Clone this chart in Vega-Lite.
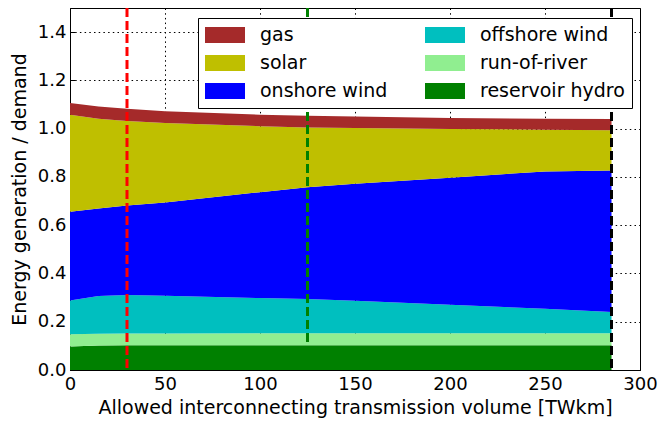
{
  "$schema": "https://vega.github.io/schema/vega-lite/v6.json",
  "width": 570,
  "height": 362,
  "autosize": {"type": "none"},
  "padding": {"left": 70, "top": 8, "right": 20, "bottom": 53},
  "background": "white",
  "config": {
    "font": "DejaVu Sans",
    "view": {"stroke": "black", "strokeWidth": 1},
    "axis": {
      "labelFont": "DejaVu Sans",
      "labelFontSize": 18,
      "labelColor": "black",
      "labelFlush": false,
      "titleFont": "DejaVu Sans",
      "titleFontSize": 19,
      "titleFontWeight": "normal",
      "titleColor": "black",
      "domainColor": "black",
      "domainWidth": 1,
      "tickColor": "black",
      "tickSize": -5,
      "tickWidth": 1,
      "gridColor": "black",
      "gridDash": [1.5, 3.2],
      "gridOpacity": 1,
      "gridWidth": 1,
      "zindex": 1
    },
    "legend": {
      "orient": "none",
      "legendX": 128,
      "legendY": 10,
      "columns": 2,
      "strokeColor": "black",
      "fillColor": "white",
      "padding": 7,
      "cornerRadius": 0,
      "symbolType": "M-2,-0.8H2V0.8H-2Z",
      "symbolSize": 400,
      "symbolOffset": 10,
      "symbolStrokeWidth": 0,
      "symbolOpacity": 1,
      "labelFont": "DejaVu Sans",
      "labelFontSize": 19,
      "labelColor": "black",
      "labelOffset": 25,
      "labelLimit": 150,
      "columnPadding": 37,
      "rowPadding": 8,
      "zindex": 2
    }
  },
  "datasets": {
    "gen": [
      {"x": 0, "tech": "reservoir hydro", "lo": 0, "hi": 0.097},
      {"x": 15, "tech": "reservoir hydro", "lo": 0, "hi": 0.102},
      {"x": 30, "tech": "reservoir hydro", "lo": 0, "hi": 0.103},
      {"x": 50, "tech": "reservoir hydro", "lo": 0, "hi": 0.103},
      {"x": 100, "tech": "reservoir hydro", "lo": 0, "hi": 0.103},
      {"x": 125, "tech": "reservoir hydro", "lo": 0, "hi": 0.103},
      {"x": 150, "tech": "reservoir hydro", "lo": 0, "hi": 0.103},
      {"x": 200, "tech": "reservoir hydro", "lo": 0, "hi": 0.103},
      {"x": 250, "tech": "reservoir hydro", "lo": 0, "hi": 0.103},
      {"x": 285, "tech": "reservoir hydro", "lo": 0, "hi": 0.103},
      {"x": 0, "tech": "run-of-river", "lo": 0.097, "hi": 0.148},
      {"x": 15, "tech": "run-of-river", "lo": 0.102, "hi": 0.150},
      {"x": 30, "tech": "run-of-river", "lo": 0.103, "hi": 0.151},
      {"x": 50, "tech": "run-of-river", "lo": 0.103, "hi": 0.151},
      {"x": 100, "tech": "run-of-river", "lo": 0.103, "hi": 0.152},
      {"x": 125, "tech": "run-of-river", "lo": 0.103, "hi": 0.152},
      {"x": 150, "tech": "run-of-river", "lo": 0.103, "hi": 0.152},
      {"x": 200, "tech": "run-of-river", "lo": 0.103, "hi": 0.152},
      {"x": 250, "tech": "run-of-river", "lo": 0.103, "hi": 0.152},
      {"x": 285, "tech": "run-of-river", "lo": 0.103, "hi": 0.152},
      {"x": 0, "tech": "offshore wind", "lo": 0.148, "hi": 0.288},
      {"x": 15, "tech": "offshore wind", "lo": 0.150, "hi": 0.307},
      {"x": 30, "tech": "offshore wind", "lo": 0.151, "hi": 0.311},
      {"x": 50, "tech": "offshore wind", "lo": 0.151, "hi": 0.308},
      {"x": 100, "tech": "offshore wind", "lo": 0.152, "hi": 0.298},
      {"x": 125, "tech": "offshore wind", "lo": 0.152, "hi": 0.294},
      {"x": 150, "tech": "offshore wind", "lo": 0.152, "hi": 0.287},
      {"x": 200, "tech": "offshore wind", "lo": 0.152, "hi": 0.270},
      {"x": 250, "tech": "offshore wind", "lo": 0.152, "hi": 0.254},
      {"x": 285, "tech": "offshore wind", "lo": 0.152, "hi": 0.240},
      {"x": 0, "tech": "onshore wind", "lo": 0.288, "hi": 0.656},
      {"x": 15, "tech": "onshore wind", "lo": 0.307, "hi": 0.669},
      {"x": 30, "tech": "onshore wind", "lo": 0.311, "hi": 0.682},
      {"x": 50, "tech": "onshore wind", "lo": 0.308, "hi": 0.694},
      {"x": 100, "tech": "onshore wind", "lo": 0.298, "hi": 0.737},
      {"x": 125, "tech": "onshore wind", "lo": 0.294, "hi": 0.757},
      {"x": 150, "tech": "onshore wind", "lo": 0.287, "hi": 0.772},
      {"x": 200, "tech": "onshore wind", "lo": 0.270, "hi": 0.797},
      {"x": 250, "tech": "onshore wind", "lo": 0.254, "hi": 0.823},
      {"x": 285, "tech": "onshore wind", "lo": 0.240, "hi": 0.827},
      {"x": 0, "tech": "solar", "lo": 0.656, "hi": 1.058},
      {"x": 15, "tech": "solar", "lo": 0.669, "hi": 1.041},
      {"x": 30, "tech": "solar", "lo": 0.682, "hi": 1.032},
      {"x": 50, "tech": "solar", "lo": 0.694, "hi": 1.023},
      {"x": 100, "tech": "solar", "lo": 0.737, "hi": 1.010},
      {"x": 125, "tech": "solar", "lo": 0.757, "hi": 1.005},
      {"x": 150, "tech": "solar", "lo": 0.772, "hi": 1.003},
      {"x": 200, "tech": "solar", "lo": 0.797, "hi": 0.999},
      {"x": 250, "tech": "solar", "lo": 0.823, "hi": 0.996},
      {"x": 285, "tech": "solar", "lo": 0.827, "hi": 0.993},
      {"x": 0, "tech": "gas", "lo": 1.058, "hi": 1.106},
      {"x": 15, "tech": "gas", "lo": 1.041, "hi": 1.092},
      {"x": 30, "tech": "gas", "lo": 1.032, "hi": 1.083},
      {"x": 50, "tech": "gas", "lo": 1.023, "hi": 1.072},
      {"x": 100, "tech": "gas", "lo": 1.010, "hi": 1.058},
      {"x": 125, "tech": "gas", "lo": 1.005, "hi": 1.054},
      {"x": 150, "tech": "gas", "lo": 1.003, "hi": 1.050},
      {"x": 200, "tech": "gas", "lo": 0.999, "hi": 1.044},
      {"x": 250, "tech": "gas", "lo": 0.996, "hi": 1.041},
      {"x": 285, "tech": "gas", "lo": 0.993, "hi": 1.040}
    ]
  },
  "encoding": {
    "x": {
      "field": "x",
      "type": "quantitative",
      "scale": {"domain": [0, 300], "nice": false, "zero": false},
      "axis": {"values": [0, 50, 100, 150, 200, 250, 300], "format": "d", "title": "Allowed interconnecting transmission volume [TWkm]", "labelPadding": 10, "titlePadding": 5}
    }
  },
  "layer": [
    {
      "data": {"name": "gen"},
      "mark": {"type": "area", "opacity": 1, "interpolate": "linear"},
      "encoding": {
        "y": {
          "field": "hi",
          "type": "quantitative",
          "scale": {"domain": [0, 1.5], "nice": false},
          "axis": {"values": [0, 0.2, 0.4, 0.6, 0.8, 1.0, 1.2, 1.4], "format": ".1f", "title": "Energy generation / demand", "labelPadding": 9, "titlePadding": 8}
        },
        "y2": {"field": "lo"},
        "color": {
          "field": "tech",
          "type": "nominal",
          "scale": {
            "domain": ["gas", "solar", "onshore wind", "offshore wind", "run-of-river", "reservoir hydro"],
            "range": ["#a52a2a", "#bfbf00", "#0000ff", "#00bfbf", "#90ee90", "#008000"]
          },
          "legend": {"title": null}
        }
      }
    },
    {
      "data": {"values": [{"x": 30}]},
      "mark": {"type": "rule", "color": "#ff0000", "strokeWidth": 3, "strokeDash": [9, 4]},
      "encoding": {}
    },
    {
      "data": {"values": [{"x": 125}]},
      "mark": {"type": "rule", "color": "#008000", "strokeWidth": 3, "strokeDash": [9, 4]},
      "encoding": {}
    },
    {
      "data": {"values": [{"x": 285}]},
      "mark": {"type": "rule", "color": "#000000", "strokeWidth": 3, "strokeDash": [9, 4]},
      "encoding": {}
    }
  ]
}
